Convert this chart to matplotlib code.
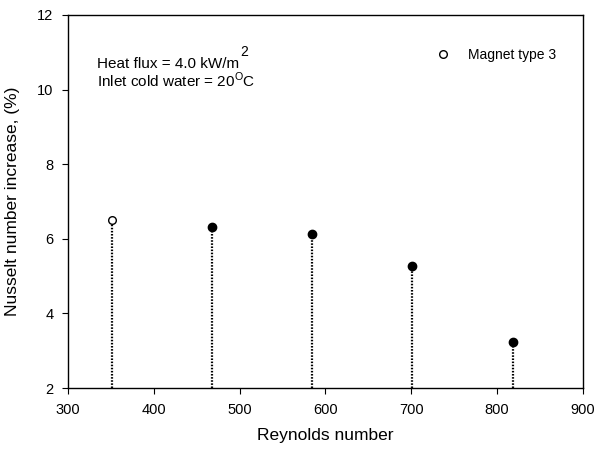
import matplotlib
matplotlib.use("Agg")
import matplotlib.pyplot as plt
from matplotlib.lines import Line2D

plt.rcParams['font.family'] = ['Liberation Sans', 'DejaVu Sans']

reynolds = [351, 468, 584, 701, 818]
nusselt_increase = [6.50, 6.31, 6.14, 5.26, 3.23]
filled = [False, True, True, True, True]
series_label = "Magnet type 3"
x_ticks = [300, 400, 500, 600, 700, 800, 900]
y_ticks = [2, 4, 6, 8, 10, 12]

W, H = 596, 450
L, R, T, B = 68, 583, 15, 388
fig = plt.figure(figsize=(W/100, H/100), dpi=100)
ax = fig.add_axes([L/W, 1-B/H, (R-L)/W, (B-T)/H])

for x, y, f in zip(reynolds, nusselt_increase, filled):
    ax.plot([x, x], [y_ticks[0], y], linestyle=(0, (0.7, 0.7)), color='black',
            linewidth=1.6, zorder=2)
    ax.plot([x], [y], marker='o', markersize=6 if f else 5.5,
            markerfacecolor='black' if f else 'white', markeredgecolor='black',
            markeredgewidth=1.0, linestyle='none', zorder=3)

ax.set_xlim(300, 900)
ax.set_ylim(2, 12)
ax.set_xticks(x_ticks)
ax.set_yticks(y_ticks)
ax.tick_params(direction='out', length=4, width=0.8, labelsize=10.5, pad=6.5,
               top=False, right=False)
for s in ax.spines.values():
    s.set_linewidth(1.0)

ax.set_xlabel("Reynolds number", fontsize=12.5, labelpad=8)
ax.set_ylabel("Nusselt number increase, (%)", fontsize=12.5, labelpad=12)

t1 = ax.text(0.0563, 0.857, "Heat flux = 4.0 kW/m", transform=ax.transAxes,
             fontsize=11, va='baseline', ha='left')
ax.annotate("2", xy=(1, 0), xycoords=t1, xytext=(0.5, 11), textcoords='offset points',
            fontsize=10, va='baseline', ha='left')
ax.text(0.0563, 0.808, r"Inlet cold water = 20$^\mathregular{O}$C", transform=ax.transAxes,
        fontsize=11, va='baseline', ha='left')

handle = Line2D([], [], marker='o', linestyle='none', markerfacecolor='white',
                markeredgecolor='black', markersize=5.5)
ax.legend([handle], [series_label], loc='center left', frameon=False, fontsize=10,
          bbox_to_anchor=(0.7146, 0.8928), handlelength=1.0, handletextpad=1.3,
          borderpad=0, borderaxespad=0)

fig.savefig("out.png", dpi=100)
